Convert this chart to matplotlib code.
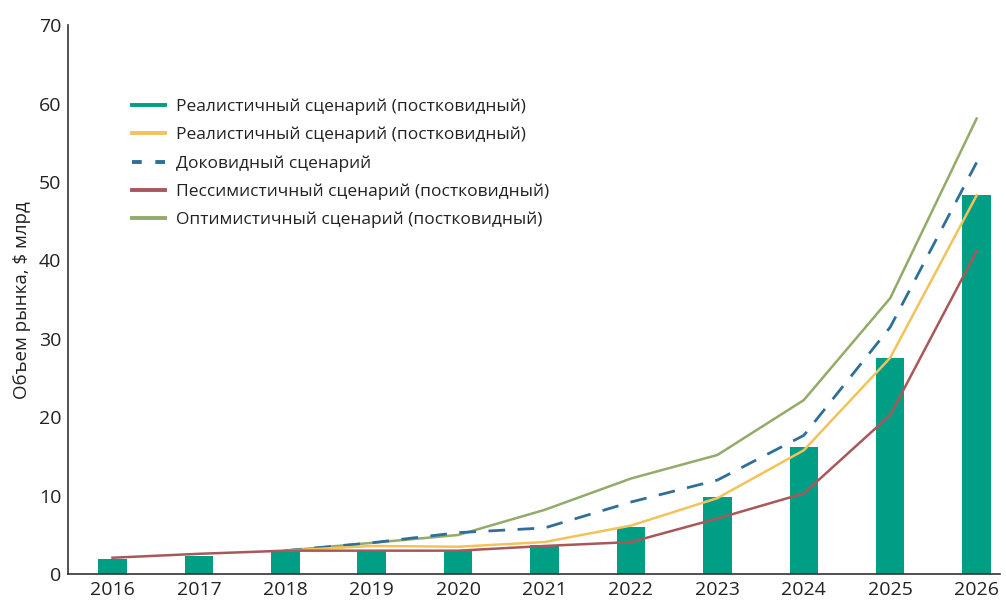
import numpy as np
import matplotlib.pyplot as plt
from matplotlib.lines import Line2D

plt.rcParams['font.family'] = ['Open Sans', 'DejaVu Sans']

years = [2016, 2017, 2018, 2019, 2020, 2021, 2022, 2023, 2024, 2025, 2026]
bars = [2.0, 2.3, 2.9, 2.9, 2.9, 3.7, 6.0, 9.8, 16.2, 27.6, 48.3]
realistic = [np.nan, np.nan, 3.0, 3.6, 3.5, 4.1, 6.2, 9.7, 15.8, 27.6, 48.3]
precovid = [np.nan, np.nan, 3.0, 4.0, 5.3, 5.9, 9.2, 12.0, 17.7, 31.5, 52.5]
pessimistic = [2.1, 2.6, 3.0, 3.0, 3.0, 3.6, 4.1, 7.1, 10.3, 20.3, 41.2]
optimistic = [np.nan, np.nan, 3.0, 4.0, 5.0, 8.2, 12.2, 15.2, 22.2, 35.2, 58.1]

labels = ['Реалистичный сценарий (постковидный)',
          'Реалистичный сценарий (постковидный)',
          'Доковидный сценарий',
          'Пессимистичный сценарий (постковидный)',
          'Оптимистичный сценарий (постковидный)']

teal = '#009e84'
yellow = '#f2c35b'
blue = '#2f6f98'
red = '#a9575b'
green = '#92ab68'

fig = plt.figure(figsize=(10.06, 6), dpi=100)
ax = fig.add_axes([0.068, 0.043, 0.926, 0.915])

ax.bar(years, bars, width=0.33, color=teal, zorder=1)
ax.plot(years, optimistic, color=green, lw=1.8, zorder=2)
ax.plot(years, precovid, color=blue, lw=2.0, ls=(0, (6, 4.5)), zorder=2)
ax.plot(years, realistic, color=yellow, lw=1.8, zorder=3)
ax.plot(years, pessimistic, color=red, lw=1.8, zorder=4)

ax.set_xlim(2015.49, 2026.27)
ax.set_ylim(0, 70)
ax.set_xticks(years)
ax.set_yticks(range(0, 71, 10))
ax.tick_params(length=0, labelsize=14, pad=5, colors='#222222')
for s in ['top', 'right']:
    ax.spines[s].set_visible(False)
for s in ['left', 'bottom']:
    ax.spines[s].set_color('#333333')
    ax.spines[s].set_linewidth(1.2)
ax.set_ylabel('Объем рынка, $ млрд', fontsize=13.5, color='#222222', labelpad=6)

handles = [Line2D([], [], color=teal, lw=2.8),
           Line2D([], [], color=yellow, lw=2.8),
           Line2D([], [], color=blue, lw=2.8, ls=(0, (2.5, 3.5))),
           Line2D([], [], color=red, lw=2.8),
           Line2D([], [], color=green, lw=2.8)]
ax.legend(handles, labels, loc='upper left', bbox_to_anchor=(0.052, 0.895),
          frameon=False, fontsize=12.5, handlelength=1.9, handletextpad=0.6,
          labelspacing=0.68, labelcolor='#222222')

fig.savefig('out.png', dpi=100)
